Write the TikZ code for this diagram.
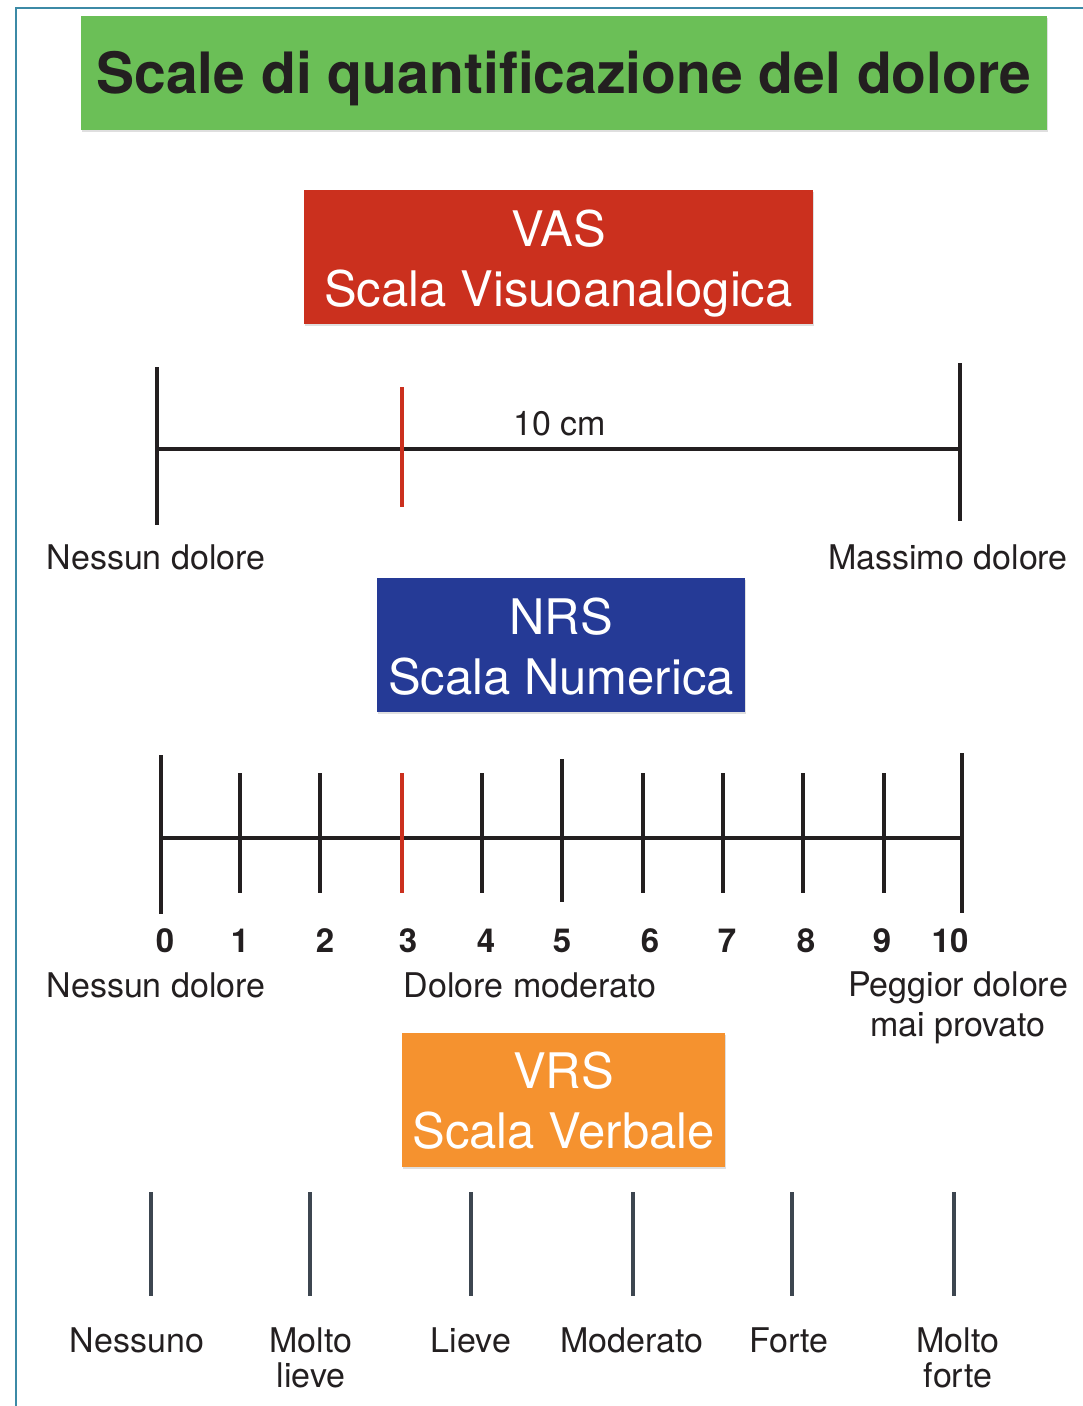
\documentclass[tikz,border=0pt]{standalone}
\usepackage{fontspec}
\setmainfont{TeX Gyre Heros}
\usetikzlibrary{shadows}

\definecolor{ink}{HTML}{231F20}
\definecolor{framecol}{HTML}{3C8AA6}
\definecolor{titlegreen}{HTML}{6BBF57}
\definecolor{vasred}{HTML}{CB301E}
\definecolor{nrsblue}{HTML}{253A96}
\definecolor{vrsorange}{HTML}{F5922F}
\definecolor{vrsgray}{HTML}{3D4650}

\begin{document}
\begin{tikzpicture}[x=1pt, y=-1pt,
  headbox/.style 2 args={fill=#1, minimum width=#2, minimum height=134pt,
    inner sep=0pt, drop shadow={opacity=.25, shadow xshift=1pt, shadow yshift=-2pt}},
  boxtext/.style={text=white, align=center, font=\fontsize{49}{60}\selectfont},
  lbl/.style={anchor=base, text=ink, align=center, font=\fontsize{34}{40}\selectfont},
  num/.style={anchor=base, text=ink, font=\bfseries\fontsize{33}{33}\selectfont},
  axis/.style={draw=ink, line width=3.5pt},
  mark3/.style={draw=vasred, line width=3.5pt},
  vrstick/.style={draw=vrsgray, line width=3.5pt}]
\useasboundingbox (0,0) rectangle (1083,1406);

% frame and title
\draw[framecol, line width=1.5pt] (16,1406) -- (16,8) -- (1083,8);
\node[fill=titlegreen, minimum width=966pt, minimum height=114pt, inner sep=0pt,
  drop shadow={opacity=.25, shadow xshift=1pt, shadow yshift=-2pt},
  text=ink, font=\bfseries\fontsize{57}{60}\selectfont,
  text height=41pt, text depth=0pt] (title) at (564,73)
  {Scale di quantificazione del dolore};

% VAS
\node[headbox={vasred}{509pt}] (vas) at (558.5,257) {};
\node[boxtext, yshift=-7pt] (vastxt) at (vas.center) {VAS\\Scala Visuoanalogica};
\draw[axis] (157,449) -- (960,449);
\draw[axis] (157,367) -- (157,525);
\draw[axis] (960,363) -- (960,521);
\draw[mark3] (402,387) -- (402,507);
\node[lbl] (vascm) at (560,435) {10 cm};
\node[lbl] (vasmin) at (156,569) {Nessun dolore};
\node[lbl] (vasmax) at (948,569) {Massimo dolore};

% NRS
\node[headbox={nrsblue}{368pt}] (nrs) at (561,645) {};
\node[boxtext, yshift=-2pt] (nrstxt) at (nrs.center) {NRS\\Scala Numerica};
\draw[axis] (161,838) -- (962,838);
\foreach \x/\t/\b in {161/755/914, 240/773/893, 320/773/893, 482/773/893,
  562/759/902, 643/773/893, 723/773/893, 803/773/893, 884/773/893, 962/753/913}
  \draw[axis] (\x,\t) -- (\x,\b);
\draw[mark3] (402,773) -- (402,893);
\foreach \x/\n in {165/0, 240/1, 325/2, 408/3, 486/4, 562/5, 650/6, 727/7,
  806/8, 882/9, 950/10}
  \node[num] (num\n) at (\x,952) {\n};
\node[lbl] (nrsmin) at (156,997) {Nessun dolore};
\node[lbl] (nrsmid) at (530,997) {Dolore moderato};
\node[lbl] (nrsmax) at (958,1036) {Peggior dolore\\mai provato};

% VRS
\node[headbox={vrsorange}{323pt}] (vrs) at (563.5,1100) {};
\node[boxtext, yshift=-1pt] (vrstxt) at (vrs.center) {VRS\\Scala Verbale};
\foreach \x in {151,310,471,633,792,954}
  \draw[vrstick] (\x,1192) -- (\x,1296);
\node[lbl, font=\fontsize{34}{35}\selectfont] (v0) at (137,1352) {Nessuno};
\node[lbl, font=\fontsize{34}{35}\selectfont] (v1) at (311,1387) {Molto\\lieve};
\node[lbl, font=\fontsize{34}{35}\selectfont] (v2) at (471,1352) {Lieve};
\node[lbl, font=\fontsize{34}{35}\selectfont] (v3) at (632,1352) {Moderato};
\node[lbl, font=\fontsize{34}{35}\selectfont] (v4) at (789,1352) {Forte};
\node[lbl, font=\fontsize{34}{35}\selectfont] (v5) at (958,1387) {Molto\\forte};
\end{tikzpicture}
\end{document}
